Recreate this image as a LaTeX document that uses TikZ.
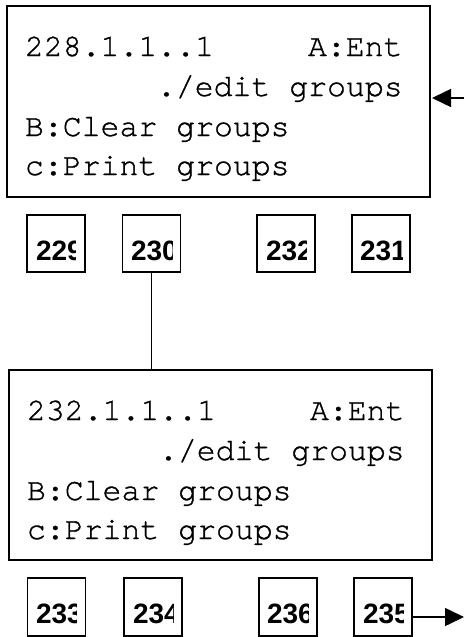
\documentclass[tikz,border=0pt]{standalone}
\usepackage{fontspec}
\setmonofont{TeX Gyre Cursor}[FakeBold=1]
\setsansfont{Liberation Sans}
\usetikzlibrary{arrows.meta}
\tikzset{
  bigbox/.style={draw, line width=1.5pt, minimum width=423pt, inner sep=0pt, outer sep=0pt},
  sbox/.style={draw, line width=1.5pt, minimum width=58pt, minimum height=57pt, inner sep=0pt, outer sep=0pt},
  mono/.style={inner sep=0pt, outer sep=0pt, anchor=base west, font=\ttfamily\fontsize{31.5}{38}\selectfont},
  stext/.style={inner sep=0pt, outer sep=0pt, anchor=base west, font=\sffamily\bfseries\fontsize{28}{32}\selectfont},
  conn/.style={line width=1.5pt},
  arr/.style={line width=1.5pt, -{Triangle[length=19pt, width=18pt]}}
}
\begin{document}
\begin{tikzpicture}[x=1pt, y=-1pt]
\useasboundingbox (0,0) rectangle (464,637);
% top box
\node[bigbox, minimum height=191pt] (tb) at (218.5,101.5) {};
\node[mono] (t1a) at (25,56) {228.1.1..1};
\node[mono] (t1b) at (308,56) {A:Ent};
\node[mono] (t2) at (157,96) {./edit groups};
\node[mono] (t3) at (25,136) {B:Clear groups};
\node[mono] (t4) at (25,175) {c:Print groups};
% lower box
\node[bigbox, minimum height=190pt] (bb) at (220.5,465) {};
\node[mono] (u1a) at (27,420) {232.1.1..1};
\node[mono] (u1b) at (310,420) {A:Ent};
\node[mono] (u2) at (159,460) {./edit groups};
\node[mono] (u3) at (27,500) {B:Clear groups};
\node[mono] (u4) at (27,539) {c:Print groups};
% small boxes row 1
\node[sbox] (b229) at (56,243.5) {};
\node[sbox] (b230) at (151.5,243.5) {};
\node[sbox] (b232) at (286,243.5) {};
\node[sbox] (b231) at (381,243.5) {};
\begin{scope}\clip (27,215) rectangle (75,272);
\node[stext] (l229) at (36,260) {229};\end{scope}
\begin{scope}\clip (122,215) rectangle (172,272);
\node[stext] (l230) at (131,260) {230};\end{scope}
\begin{scope}\clip (257,215) rectangle (306,272);
\node[stext] (l232) at (266,260) {232};\end{scope}
\begin{scope}\clip (352,215) rectangle (402,272);
\node[stext] (l231) at (360,260) {231};\end{scope}
% small boxes row 2
\node[sbox, minimum height=58pt] (b233) at (56.5,607) {};
\node[sbox, minimum height=58pt] (b234) at (153,607) {};
\node[sbox, minimum height=58pt] (b236) at (288,607) {};
\node[sbox, minimum height=58pt] (b235) at (383,607) {};
\begin{scope}\clip (27,578) rectangle (76,636);
\node[stext] (l233) at (36,623) {233};\end{scope}
\begin{scope}\clip (124,578) rectangle (173,636);
\node[stext] (l234) at (133,623) {234};\end{scope}
\begin{scope}\clip (259,578) rectangle (308,636);
\node[stext] (l236) at (267,623) {236};\end{scope}
\begin{scope}\clip (354,578) rectangle (403,636);
\node[stext] (l235) at (363,623) {235};\end{scope}
% connectors
\draw[conn] (b230.south) -- (b230.south |- bb.north);
\coordinate (ain) at (464,98);
\draw[arr, shorten >=2pt] (ain) -- (ain -| tb.east);
\coordinate (aout) at (464,617);
\draw[arr] (b235.east |- aout) -- (aout);
\end{tikzpicture}
\end{document}
